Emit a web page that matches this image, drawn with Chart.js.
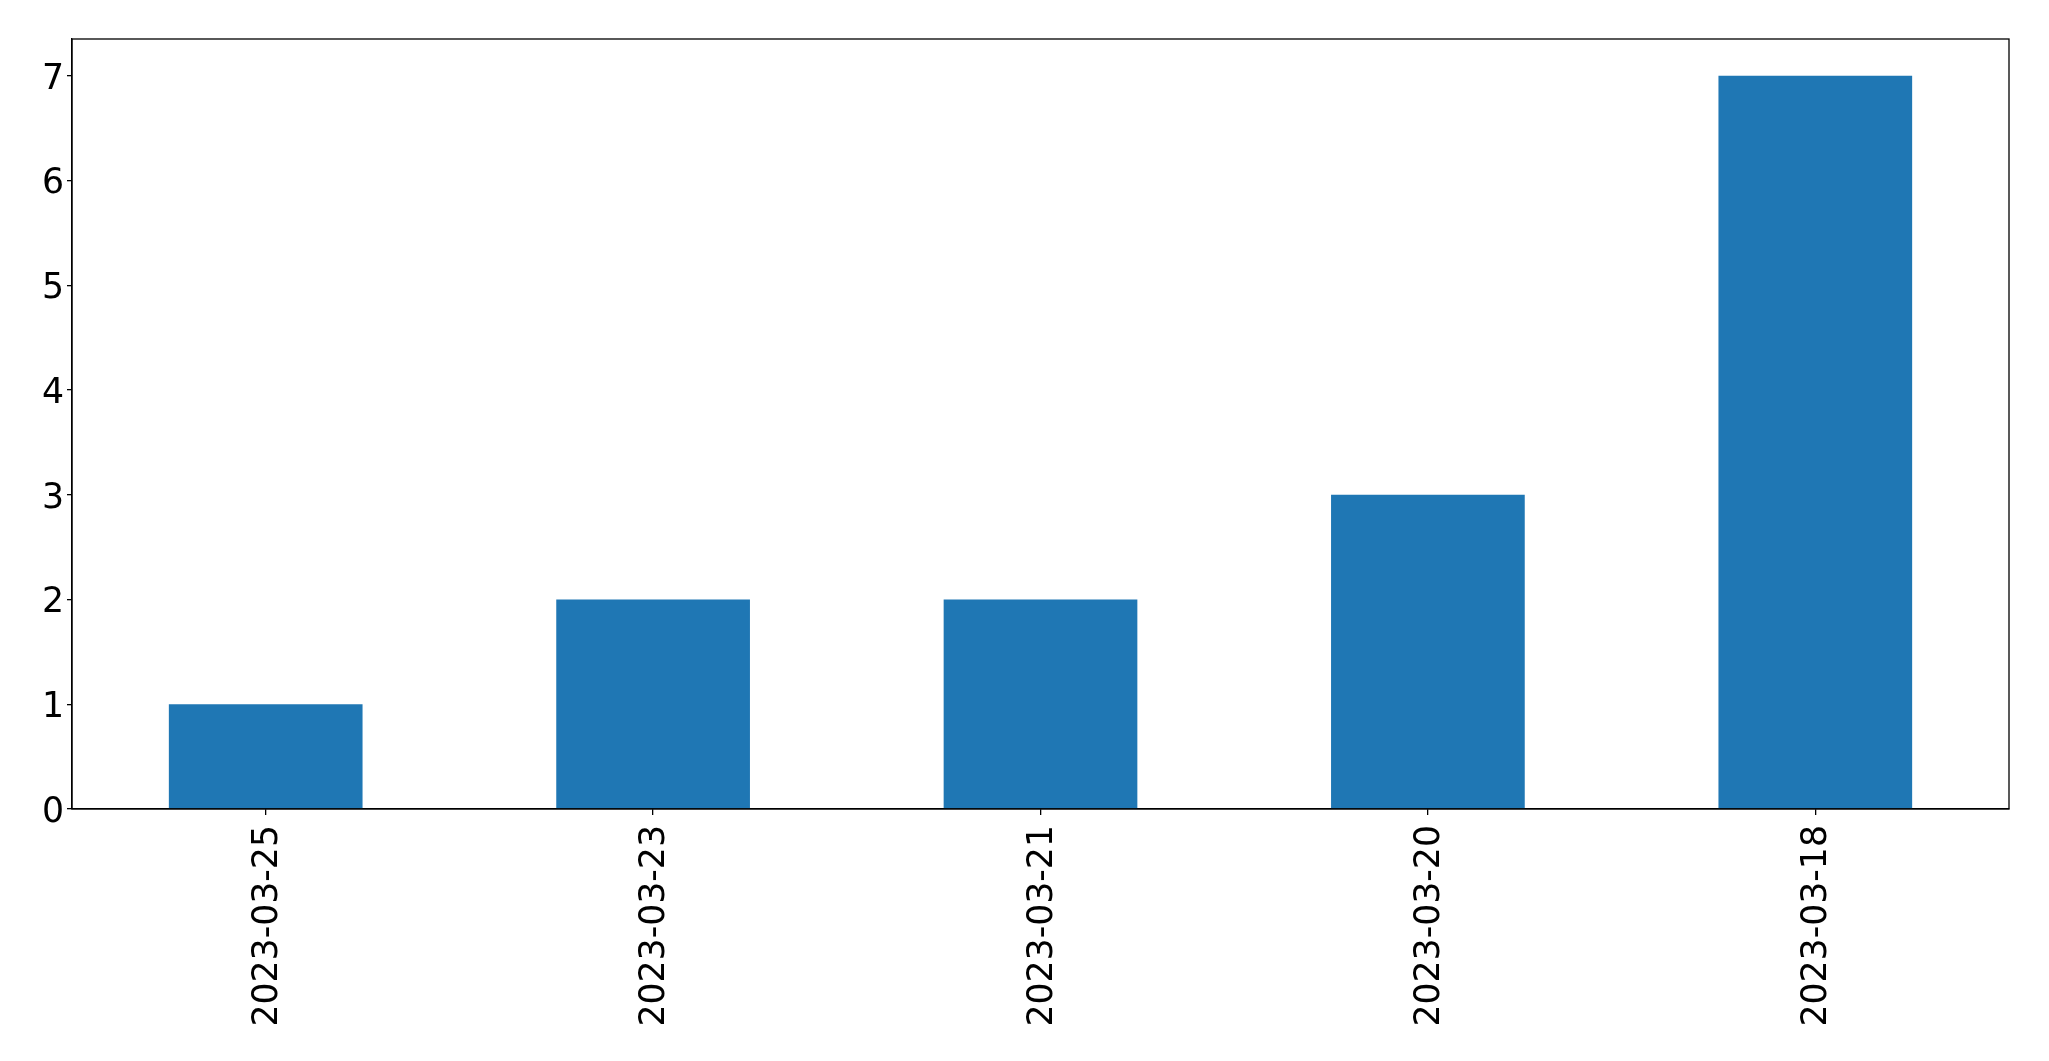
<!DOCTYPE html>
<html>
<head>
<meta charset="utf-8">
<script src="https://cdn.jsdelivr.net/npm/chart.js@4/dist/chart.umd.min.js"></script>
<style>
  html, body { margin: 0; padding: 0; background: #fff; }
  #chart { display: block; }
</style>
</head>
<body>
<canvas id="chart" width="2049" height="1061"></canvas>
<script>
const dates = ["2023-03-25", "2023-03-23", "2023-03-21", "2023-03-20", "2023-03-18"];
const counts = [1, 2, 2, 3, 7];
const yTicks = [0, 1, 2, 3, 4, 5, 6, 7];
const yMax = 7.35;

// 枠線（上・右も含めて全周）
const frame = {
  id: "frame",
  afterDraw(chart) {
    const { ctx, chartArea: a } = chart;
    ctx.save();
    ctx.strokeStyle = "#000";
    ctx.lineWidth = 1.3;
    ctx.strokeRect(a.left, a.top, a.right - a.left, a.bottom - a.top);
    ctx.restore();
  }
};

// ラベルの文字位置を少しだけずらす（数字の中心を目盛りに合わせる）
const labelShift = {
  id: "labelShift",
  beforeDraw(chart) {
    const shifts = { x: [2, 0], y: [0, 4] };
    for (const id in shifts) {
      const s = chart.scales[id];
      if (!s || s._shifted) continue;
      const orig = s.drawLabels;
      s.drawLabels = function (area) {
        const ctx = this.ctx;
        ctx.save();
        ctx.translate(shifts[id][0], shifts[id][1]);
        orig.call(this, area);
        ctx.restore();
      };
      s._shifted = true;
    }
  }
};

new Chart(document.getElementById("chart"), {
  type: "bar",
  data: {
    labels: dates,
    datasets: [{
      data: counts,
      backgroundColor: "#1f77b4",
      borderWidth: 0,
      categoryPercentage: 1,
      barPercentage: 0.5
    }]
  },
  options: {
    responsive: false,
    animation: false,
    devicePixelRatio: 1,
    layout: { padding: { top: 39, right: 40, left: 0, bottom: 0 } },
    plugins: { legend: { display: false }, tooltip: { enabled: false } },
    scales: {
      x: {
        offset: true,
        grid: { display: true, offset: false, drawOnChartArea: false, drawTicks: true, tickLength: 6, color: "#000", lineWidth: 1.3 },
        border: { display: true, color: "#000", width: 1.3 },
        ticks: {
          color: "#000",
          font: { family: "DejaVu Sans", size: 34.7 },
          minRotation: 90,
          maxRotation: 90,
          padding: 10,
          autoSkip: false
        },
        afterFit(scale) { scale.height = 252; }
      },
      y: {
        min: 0,
        max: yMax,
        grid: { display: true, drawOnChartArea: false, drawTicks: true, tickLength: 5, color: "#000", lineWidth: 1.3 },
        border: { display: true, color: "#000", width: 1.3 },
        ticks: {
          color: "#000",
          font: { family: "DejaVu Sans", size: 34.7 },
          padding: 3
        },
        afterBuildTicks(scale) {
          scale.ticks = yTicks.map(v => ({ value: v }));
        },
        afterFit(scale) { scale.width = 72; }
      }
    }
  },
  plugins: [frame, labelShift]
});
</script>
</body>
</html>
